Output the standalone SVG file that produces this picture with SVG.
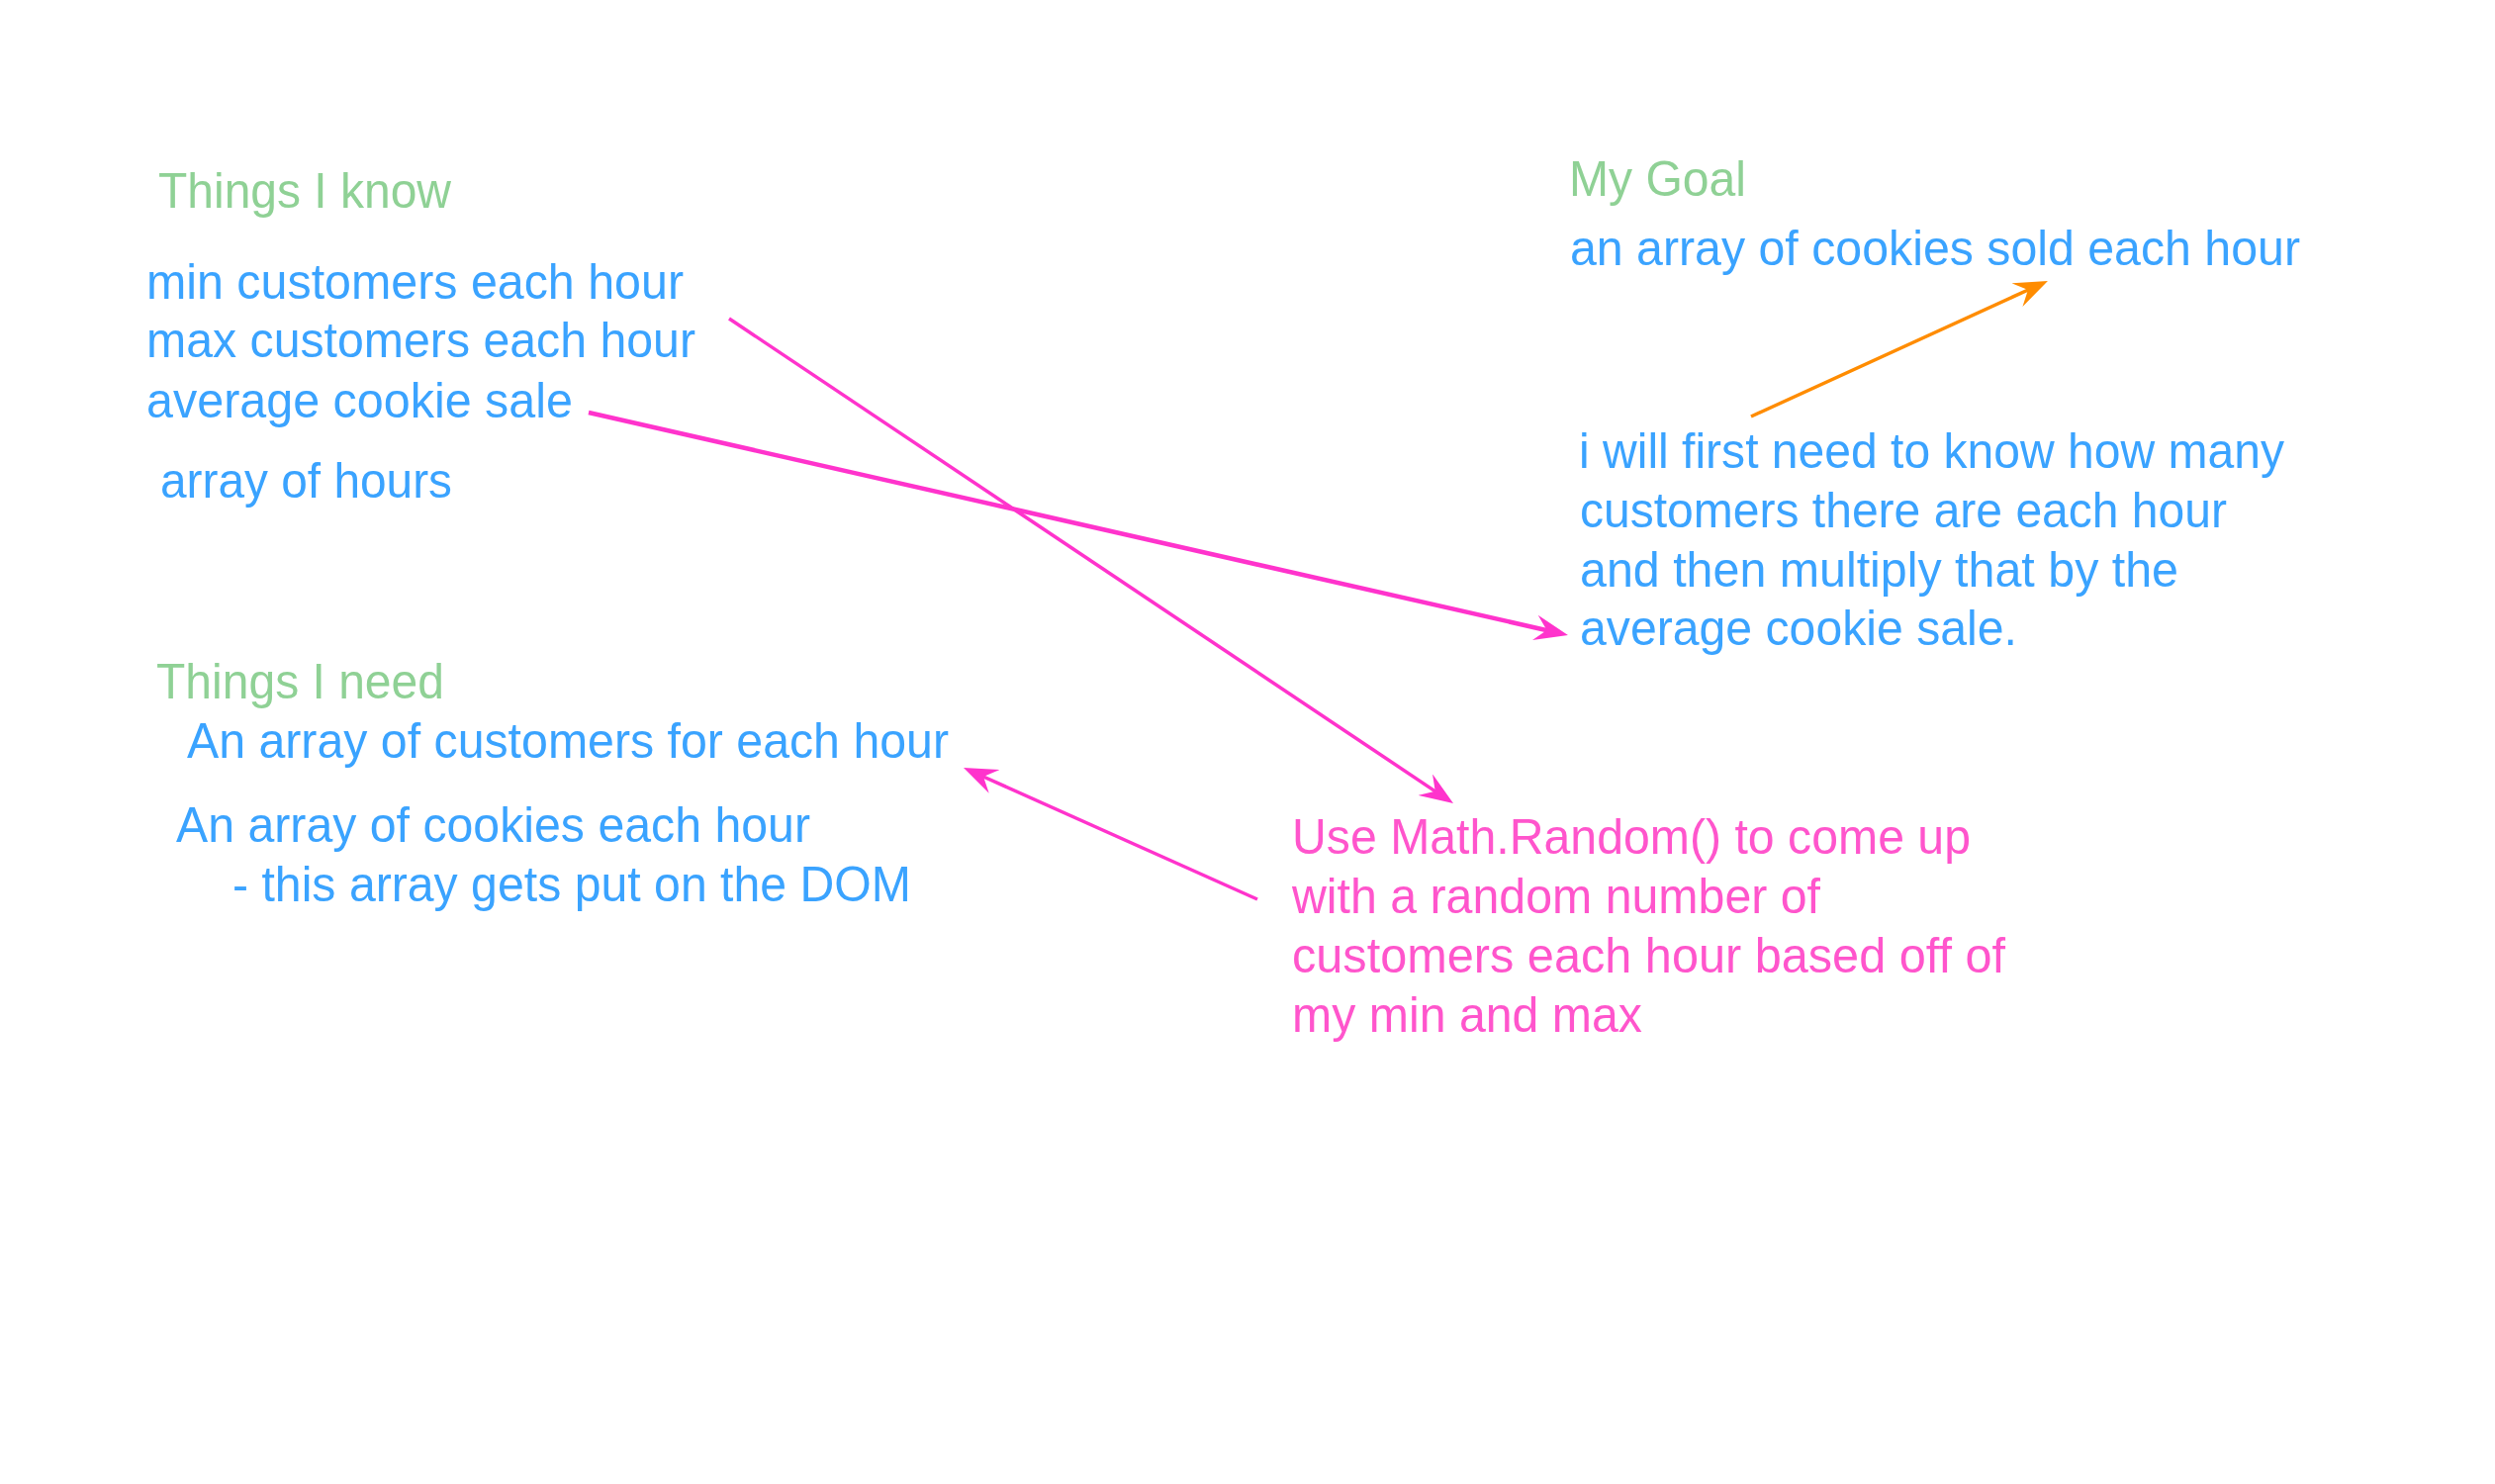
<svg xmlns="http://www.w3.org/2000/svg" width="2522" height="1500" viewBox="0 0 2522 1500">
<style>
text{font-family:"Liberation Sans",Arial,sans-serif;font-size:50px}
.g{fill:#8fd195}
.b{fill:#3aa3ff}
.p{fill:#ff55cc}
.pl{stroke:#ff33cc;fill:none}
.ol{stroke:#ff8c00;fill:none}
</style>
<defs>
<marker id="ap" viewBox="0 0 34 26" markerWidth="34" markerHeight="26" refX="17" refY="13" orient="auto" markerUnits="userSpaceOnUse">
<path d="M34,13 L0,0 L12,13 L0,26 Z" fill="#ff33cc"/>
</marker>
<marker id="ao" viewBox="0 0 34 26" markerWidth="34" markerHeight="26" refX="17" refY="13" orient="auto" markerUnits="userSpaceOnUse">
<path d="M34,13 L0,0 L12,13 L0,26 Z" fill="#ff8c00"/>
</marker>
</defs>
<rect width="2522" height="1500" fill="#ffffff"/>
<g id="connectors">
<line class="pl" x1="737" y1="322" x2="1454.9" y2="802.6" stroke-width="3.5" marker-end="url(#ap)"/>
<line class="pl" x1="595" y1="417" x2="1568.4" y2="638.2" stroke-width="4.5" marker-end="url(#ap)"/>
<line class="pl" x1="1271" y1="909" x2="989.5" y2="783" stroke-width="3.5" marker-end="url(#ap)"/>
<line class="ol" x1="1770" y1="421" x2="2054.5" y2="291" stroke-width="3.5" marker-end="url(#ao)"/>
</g>
<g id="things-i-know">
<text class="g" x="160" y="210" textLength="296" lengthAdjust="spacingAndGlyphs">Things I know</text>
<text class="b" x="148" y="302" textLength="543" lengthAdjust="spacingAndGlyphs">min customers each hour</text>
<text class="b" x="148" y="361" textLength="555" lengthAdjust="spacingAndGlyphs">max customers each hour</text>
<text class="b" x="148" y="422" textLength="431" lengthAdjust="spacingAndGlyphs">average cookie sale</text>
<text class="b" x="162" y="503" textLength="295" lengthAdjust="spacingAndGlyphs">array of hours</text>
</g>
<g id="my-goal">
<text class="g" x="1586" y="198" textLength="179" lengthAdjust="spacingAndGlyphs">My Goal</text>
<text class="b" x="1587" y="268" textLength="738" lengthAdjust="spacingAndGlyphs">an array of cookies sold each hour</text>
</g>
<g id="first-need">
<text class="b" x="1596" y="473" textLength="713" lengthAdjust="spacingAndGlyphs">i will first need to know how many</text>
<text class="b" x="1597" y="533" textLength="654" lengthAdjust="spacingAndGlyphs">customers there are each hour</text>
<text class="b" x="1597" y="593" textLength="605" lengthAdjust="spacingAndGlyphs">and then multiply that by the</text>
<text class="b" x="1597" y="652" textLength="442" lengthAdjust="spacingAndGlyphs">average cookie sale.</text>
</g>
<g id="things-i-need">
<text class="g" x="158" y="706" textLength="291" lengthAdjust="spacingAndGlyphs">Things I need</text>
<text class="b" x="189" y="766" textLength="770" lengthAdjust="spacingAndGlyphs">An array of customers for each hour</text>
<text class="b" x="178" y="851" textLength="641" lengthAdjust="spacingAndGlyphs">An array of cookies each hour</text>
<text class="b" x="235" y="911" textLength="686" lengthAdjust="spacingAndGlyphs">- this array gets put on the DOM</text>
</g>
<g id="math-random">
<text class="p" x="1306" y="863" textLength="686" lengthAdjust="spacingAndGlyphs">Use Math.Random() to come up</text>
<text class="p" x="1306" y="923" textLength="534" lengthAdjust="spacingAndGlyphs">with a random number of</text>
<text class="p" x="1306" y="983" textLength="721" lengthAdjust="spacingAndGlyphs">customers each hour based off of</text>
<text class="p" x="1306" y="1043" textLength="354" lengthAdjust="spacingAndGlyphs">my min and max</text>
</g>
</svg>
